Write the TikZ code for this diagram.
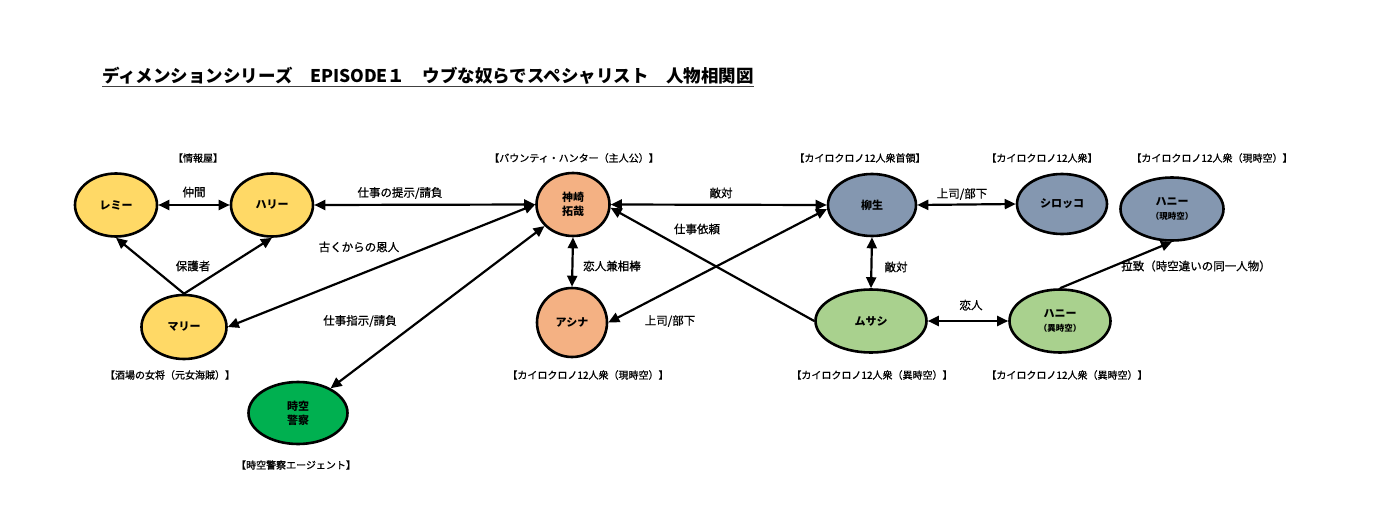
\documentclass[tikz,border=0pt]{standalone}
\usepackage{fontspec}
\setmainfont{Noto Sans CJK JP}
\newfontfamily\lblfont[FakeBold=0.8]{Noto Sans CJK JP}
\usetikzlibrary{arrows.meta,shapes.geometric}
\definecolor{cyellow}{HTML}{FFD966}
\definecolor{corange}{HTML}{F4B183}
\definecolor{cblue}{HTML}{8497B0}
\definecolor{clgreen}{HTML}{A9D18E}
\definecolor{cgreen}{HTML}{00B050}
\tikzset{
  person/.style={ellipse, draw=black, line width=2.6pt, inner sep=0pt, align=center,
    font=\bfseries\fontsize{11}{14}\selectfont},
  tag/.style={inner sep=0pt, font=\lblfont\fontsize{10}{12}\selectfont},
  elabel/.style={inner sep=0pt, font=\lblfont\fontsize{11.5}{13}\selectfont},
  oneway/.style={line width=2.2pt, -{Triangle[length=11pt,width=10pt]}},
  twoway/.style={line width=2.2pt, {Triangle[length=11pt,width=10pt]}-{Triangle[length=11pt,width=10pt]}}
}
\newcommand{\smalltxt}[1]{{\fontsize{8.5}{10}\selectfont #1}}
\begin{document}
\begin{tikzpicture}[x=1pt,y=-1pt]
\useasboundingbox[fill=white] (0,0) rectangle (1390,530);
% title
\node[inner sep=0pt, font=\bfseries\fontsize{17.5}{20}\selectfont, anchor=west] (title) at (102,76)
  {ディメンションシリーズ　EPISODE１　ウブな奴らでスペシャリスト　人物相関図};
\draw[line width=1.3pt, black!75] ([yshift=-4pt]title.base west) -- ([yshift=-4pt]title.base east);

% persons
\node[person, fill=cyellow, minimum width=82pt, minimum height=63pt] (remi) at (116,205) {レミー};
\node[person, fill=cyellow, minimum width=82pt, minimum height=63pt] (hari) at (272,205) {ハリー};
\node[person, fill=cyellow, minimum width=85pt, minimum height=64pt] (mari) at (184,327) {マリー};
\node[person, fill=cgreen, minimum width=99pt, minimum height=62pt] (jikuu) at (298,413) {時空\\警察};
\node[person, fill=corange, minimum width=73pt, minimum height=63pt] (kanzaki) at (573,204.5) {神崎\\拓哉};
\node[person, fill=corange, minimum width=70pt, minimum height=69pt] (ashina) at (572,322.5) {アシナ};
\node[person, fill=cblue, minimum width=88pt, minimum height=62pt] (yagyu) at (872,205) {柳生};
\node[person, fill=cblue, minimum width=90pt, minimum height=60pt] (sirokko) at (1062,204) {シロッコ};
\node[person, fill=cblue, minimum width=103pt, minimum height=63pt] (haniG) at (1172,209) {ハニー\\\smalltxt{（現時空）}};
\node[person, fill=clgreen, minimum width=111pt, minimum height=63pt] (musashi) at (871,321) {ムサシ};
\node[person, fill=clgreen, minimum width=101pt, minimum height=63pt] (haniI) at (1060,321) {ハニー\\\smalltxt{（異時空）}};

% role tags
\node[tag] (t1) at (198,158) {【情報屋】};
\node[tag] (t2) at (574,158) {【バウンティ・ハンター（主人公）】};
\node[tag] (t3) at (860,158) {【カイロクロノ12人衆首領】};
\node[tag] (t4) at (1042,158) {【カイロクロノ12人衆】};
\node[tag] (t5) at (1212,158) {【カイロクロノ12人衆（現時空）】};
\node[tag] (t6) at (170,375) {【酒場の女将（元女海賊）】};
\node[tag] (t7) at (588,375) {【カイロクロノ12人衆（現時空）】};
\node[tag] (t8) at (872,375) {【カイロクロノ12人衆（異時空）】};
\node[tag] (t9) at (1067,375) {【カイロクロノ12人衆（異時空）】};
\node[tag] (t10) at (296,465) {【時空警察エージェント】};

% connectors
\draw[twoway] (remi.east) -- (hari.west);
\draw[twoway] (hari.east) -- (kanzaki.west);
\draw[oneway] (mari.north) -- (remi.south);
\draw[oneway] (mari.north) -- (hari.south);
\draw[twoway] (mari.east) -- (kanzaki.west);
\draw[twoway] (jikuu) -- (kanzaki);
\draw[twoway] (kanzaki.south) -- (ashina.north);
\draw[twoway] (kanzaki.east) -- (yagyu.west);
\draw[oneway] (musashi.west) -- (kanzaki.-5);
\draw[twoway] (ashina.east) -- (yagyu.185);
\draw[twoway] (yagyu.south) -- (musashi.north);
\draw[twoway] (yagyu.east) -- (sirokko.west);
\draw[twoway] (musashi.east) -- (haniI.west);
\draw[oneway] (haniI.north) -- (haniG.south);

% connector labels
\node[elabel] (l1) at (194,192) {仲間};
\node[elabel] (l2) at (400,193) {仕事の提示/請負};
\node[elabel] (l3) at (359,247) {古くからの恩人};
\node[elabel] (l4) at (193,266) {保護者};
\node[elabel] (l5) at (360,321) {仕事指示/請負};
\node[elabel] (l6) at (721,193) {敵対};
\node[elabel] (l7) at (697,229) {仕事依頼};
\node[elabel] (l8) at (612,266) {恋人兼相棒};
\node[elabel] (l9) at (670,321) {上司/部下};
\node[elabel] (l10) at (962,194) {上司/部下};
\node[elabel] (l11) at (896,267) {敵対};
\node[elabel] (l12) at (971,305) {恋人};
\node[elabel] (l13) at (1196,266) {拉致（時空違いの同一人物）};
\end{tikzpicture}
\end{document}
